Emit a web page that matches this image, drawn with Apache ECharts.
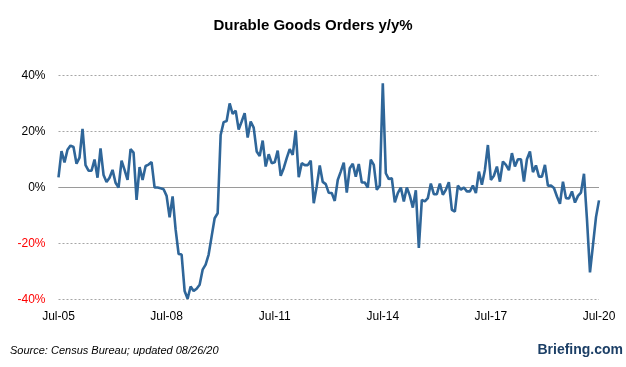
<!DOCTYPE html>
<html>
<head>
<meta charset="utf-8">
<script src="https://cdn.jsdelivr.net/npm/echarts@6/dist/echarts.min.js"></script>
<style>
html,body{margin:0;padding:0;background:#fff;}
#chart{width:626px;height:367px;}
</style>
</head>
<body>
<div id="chart"></div>
<script>
// Monthly y/y % change, Jul-05 .. Jul-20
const values = [
  3.6, 13, 9, 13.5, 15, 14.5, 8.5, 10.7, 21, 8, 6, 6,
  10, 3.5, 14, 4.5, 2, 3.5, 6.3, 1.7, 0, 9.6, 6.3, 2.7,
  13.7, 12.5, -4.4, 7.3, 2.7, 7.7, 8.2, 9.1, 0, 0, -0.3, -0.6,
  -3, -10.7, -3.2, -15, -23.8, -24, -37, -39.8, -35.4, -37, -36.2, -34.8,
  -29.4, -27.6, -24, -17.5, -11, -9.2, 18.8, 23.4, 23.8, 30.1, 26.3, 27.5,
  20.7, 23.6, 26.6, 17.9, 23.6, 21.4, 12.9, 11.3, 16.8, 7.5, 11.9, 8.7,
  9, 13.2, 4.2, 6.9, 10.5, 13.7, 11.7, 20.4, 3.7, 8.7, 8, 8,
  9.6, -5.6, 0.4, 7.9, 2, 1.2, -1.9, -2, -4.8, 2.7, 5.7, 8.9,
  -1.8, 6.9, 8.5, 3.9, 8.4, 1.8, 1.8, 0, 10, 8.1, -0.8, 0.7,
  37.3, 5.1, 3, 3.3, -5.3, -2, 0, -5, 0, -2.9, -7.2, -1,
  -21.6, -4.4, -5, -3.8, 1.4, -2.4, -2.4, 1.4, -2.6, -0.8, 1.9, -8,
  -8.6, 0.7, -0.8, 0, -1.4, -1.4, 0.7, -2, 5.7, 1, 6.3, 15.2,
  2.7, 4.2, 7.5, 2.1, 9.3, 8.1, 6.2, 12.3, 7.5, 10.1, 10.1, 2.1,
  10.1, 12.9, 5.5, 7.9, 3.9, 3.9, 8.1, 0.6, 0.7, -0.2, -3.2, -5.8,
  2.1, -3.8, -3.9, -1.4, -5.4, -3, -1.8, 4.9, -11.5, -30.4, -20.5, -10.6,
  -4.6
];
const tickLabels = ['Jul-05', 'Jul-08', 'Jul-11', 'Jul-14', 'Jul-17', 'Jul-20'];
const yTicks = [-40, -20, 0, 20, 40];
const monthNames = ['Jan','Feb','Mar','Apr','May','Jun','Jul','Aug','Sep','Oct','Nov','Dec'];

// Month categories built from the start month (Jul 2005)
const categories = values.map((_, i) => {
  const m = (6 + i) % 12;
  const y = 2005 + Math.floor((6 + i) / 12);
  return monthNames[m] + '-' + String(y % 100).padStart(2, '0');
});

const chart = echarts.init(document.getElementById('chart'), null, {renderer: 'canvas'});
const font = 'Liberation Sans, Arial, sans-serif';

chart.setOption({
  animation: false,
  backgroundColor: '#ffffff',
  title: {
    text: 'Durable Goods Orders y/y%',
    left: 'center',
    top: 13,
    textStyle: {fontFamily: font, fontSize: 15, fontWeight: 'bold', color: '#000'}
  },
  grid: {left: 58.5, right: 27, top: 75.7, bottom: 67.7, containLabel: false},
  xAxis: {
    type: 'category',
    data: categories,
    boundaryGap: false,
    axisLine: {show: false},
    axisTick: {show: false},
    splitLine: {show: false},
    axisLabel: {
      interval: (idx, val) => tickLabels.indexOf(val) >= 0,
      formatter: (val) => tickLabels.indexOf(val) >= 0 ? val : '',
      margin: 11,
      fontFamily: font,
      fontSize: 12,
      color: '#000',
      showMaxLabel: true
    }
  },
  yAxis: {
    type: 'value',
    min: yTicks[0],
    max: yTicks[yTicks.length - 1],
    interval: 20,
    axisLine: {show: false},
    axisTick: {show: false},
    axisLabel: {
      formatter: (v) => v + '%',
      margin: 13,
      fontFamily: font,
      fontSize: 12,
      color: (v) => Number(v) < 0 ? '#ff0000' : '#000000'
    },
    splitLine: {show: true, lineStyle: {color: '#a6a6a6', width: 1, type: [2, 2]}}
  },
  series: [{
    type: 'line',
    data: values,
    showSymbol: false,
    symbol: 'none',
    lineStyle: {color: '#2f6699', width: 2.6},
    z: 5,
    markLine: {
      silent: true,
      symbol: 'none',
      label: {show: false},
      lineStyle: {color: '#9a9a9a', width: 1, type: 'solid'},
      data: [{yAxis: 0}],
      z: 1
    }
  }],
  graphic: [
    {
      type: 'text',
      left: 10,
      top: 345,
      style: {
        text: 'Source: Census Bureau; updated 08/26/20',
        fontFamily: font,
        fontSize: 11,
        fontStyle: 'italic',
        fill: '#000'
      }
    },
    {
      type: 'text',
      right: 3,
      top: 343,
      style: {
        text: 'Briefing.com',
        fontFamily: font,
        fontSize: 14,
        fontWeight: 'bold',
        fill: '#1c3f66'
      }
    }
  ]
});
</script>
</body>
</html>
